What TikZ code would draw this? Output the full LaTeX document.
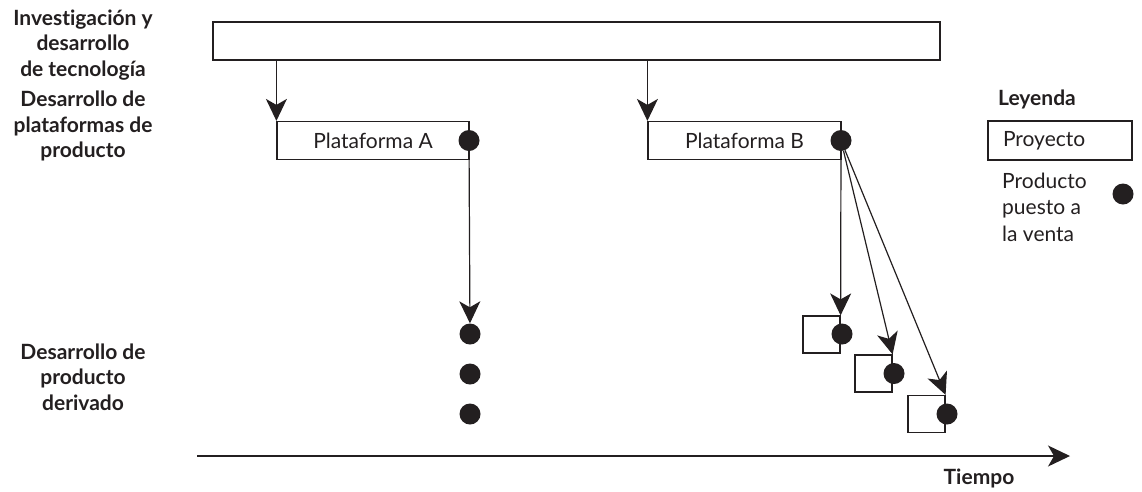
\documentclass[tikz,border=0pt]{standalone}
\usepackage{fontspec}
\setmainfont{Lato}[Ligatures=CommonOff]
\usetikzlibrary{arrows.meta}
\definecolor{ink}{HTML}{231F20}
\begin{document}
\begin{tikzpicture}[x=1pt,y=-1pt,
  box/.style={draw=ink,line width=1.2pt,inner sep=0pt},
  dot/.style={circle,fill=ink,draw=none,minimum size=21pt,inner sep=0pt},
  arr/.style={draw=ink,line width=1.2pt,-{Stealth[length=22pt,width=21pt,inset=6pt]}},
  lbl/.style={font=\fontsize{21}{25.5}\selectfont\bfseries,text=ink,align=center,inner sep=0pt},
  txt/.style={font=\fontsize{21}{26.5}\selectfont,text=ink,inner sep=0pt}]
\useasboundingbox (0,0) rectangle (1142,491);
% left labels
\node[lbl] (l1) at (83,45) {Investigación y\\desarrollo\\de tecnología};
\node[lbl] (l2) at (83,126) {Desarrollo de\\plataformas de\\producto};
\node[lbl] (l3) at (83,377) {Desarrollo de\\producto\\derivado};
% top box
\node[box,minimum width=727pt,minimum height=38pt] (rd) at (576.5,41) {};
% platform boxes
\node[box,txt,minimum width=192pt,minimum height=38pt] (pa) at (373,140.5) {Plataforma A};
\node[box,txt,minimum width=193pt,minimum height=38pt] (pb) at (744.5,140.5) {Plataforma B};
% small project boxes
\node[box,minimum width=37pt,minimum height=37pt] (s1) at (821.5,334.5) {};
\node[box,minimum width=37pt,minimum height=37pt] (s2) at (873.5,373.5) {};
\node[box,minimum width=37pt,minimum height=37pt] (s3) at (926.5,414) {};
% dots
\node[dot] (da) at (469,140.5) {};
\node[dot] (db) at (841,140.5) {};
\node[dot] (a1) at (470,334) {};
\node[dot] (a2) at (470,374) {};
\node[dot] (a3) at (470,414) {};
\node[dot] (b1) at (842,334) {};
\node[dot] (b2) at (894,373.5) {};
\node[dot] (b3) at (947,414) {};
% connectors
\draw[arr] (rd.south -| pa.west) -- (pa.north west);
\draw[arr] (rd.south -| pb.west) -- (pb.north west);
\draw[arr] (da) -- (a1);
\draw[arr] (db) -- (s1.north east);
\draw[arr] (db) -- (s2.north east);
\draw[arr] (db) -- (s3.north east);
% legend
\node[lbl] (ley) at (1037,99) {Leyenda};
\node[box,txt,minimum width=144pt,minimum height=39pt,text width=114pt,inner xsep=15pt,align=left] (proy) at (1060,140.5) {Proyecto};
\node[txt,anchor=west,align=left] (prod) at (1002,207) {Producto\\puesto a\\la venta};
\node[dot] (ld) at (1123,194) {};
% time axis
\coordinate (t0) at (197,456);
\coordinate (t1) at (1070,456);
\draw[arr] (t0) -- (t1);
\node[lbl] (tiempo) at (979,478) {Tiempo};
\end{tikzpicture}
\end{document}
